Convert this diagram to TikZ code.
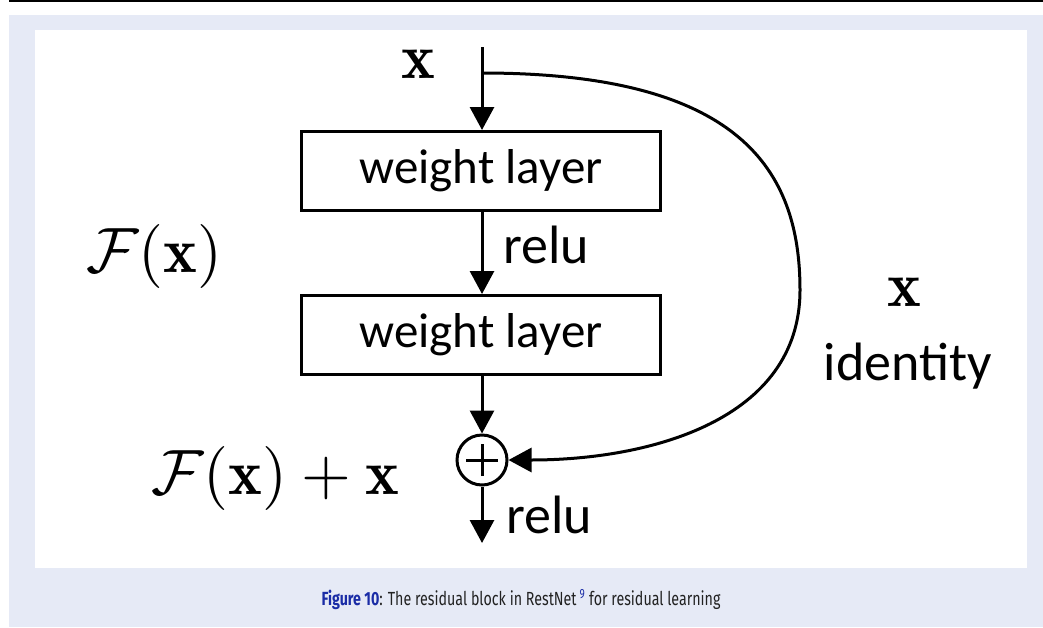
\documentclass[tikz,border=0pt]{standalone}
\usepackage{fontspec}
\usepackage{graphicx}
\usetikzlibrary{arrows.meta}
\newfontfamily\carl{Carlito}
\newfontfamily\capfont[FakeStretch=0.75]{Fira Sans}
\definecolor{panel}{HTML}{E6EAF6}
\definecolor{figblue}{HTML}{1A2CA6}
\definecolor{captext}{HTML}{222222}
\newcommand{\bigmath}[1]{\scalebox{6.4}{$#1$}}
\tikzset{
  wbox/.style={draw, line width=3pt, minimum width=359pt, minimum height=79pt, inner sep=0pt, font=\carl\fontsize{49}{58}\selectfont},
  lbl/.style={inner sep=0pt, font=\carl\fontsize{54}{62}\selectfont},
  mth/.style={inner sep=0pt},
  conn/.style={line width=3pt, -{Triangle[width=24pt,length=23pt]}},
}
\begin{document}
\begin{tikzpicture}[x=1pt,y=-1pt]
\useasboundingbox (0,0) rectangle (1043,627);
\fill[panel] (9,15) rectangle (1043,627);
\fill[white] (35,30) rectangle (1027,568);
\draw[line width=1.6pt] (9,0.8) -- (1043,0.8);

\coordinate (top) at (482,47);
\coordinate (split) at (482,73);
\coordinate (out) at (482,543);
\node[wbox] (w1) at (481,171) {weight layer};
\node[wbox] (w2) at (481,335) {weight layer};
\node[circle, draw, line width=3pt, minimum size=50pt, inner sep=0pt] (sum) at (482,460) {};
\draw[line width=3pt] ([xshift=-16pt]sum.center) -- ([xshift=16pt]sum.center);
\draw[line width=3pt] ([yshift=-16pt]sum.center) -- ([yshift=16pt]sum.center);

\draw[line width=3pt] (top) -- (split);
\draw[conn] (split) -- (split |- w1.north);
\draw[conn] (w1.south -| split) -- (w2.north -| split);
\draw[conn] (w2.south -| split) -- (sum.north);
\draw[conn] (sum.south) -- (out);
\draw[conn] (split) .. controls (740,73) and (800,170) .. (800,290)
   .. controls (800,420) and (650,460) .. (sum.east);

\node[lbl, anchor=base west] (relu1) at (503,263) {relu};
\node[lbl, anchor=base west] (relu2) at (506,533) {relu};
\node[mth] (xin) at (418,64) {\bigmath{\mathbf{x}}};
\node[mth] (fx) at (154,256) {\bigmath{\mathcal{F}(\mathbf{x})}};
\node[mth] (fxx) at (275,478) {\bigmath{\mathcal{F}(\mathbf{x})+\mathbf{x}}};
\node[mth] (xid) at (904,292) {\bigmath{\mathbf{x}}};
\node[lbl, anchor=base] (ident) at (908,380) {identity};

\node[inner sep=0pt, anchor=base, text=captext, font=\capfont\fontsize{19}{23}\selectfont] (cap) at (521,605)
  {{\bfseries\color{figblue}Figure 10}: The residual block in RestNet\,\textsuperscript{\color{figblue}9} for residual learning};
\end{tikzpicture}
\end{document}
